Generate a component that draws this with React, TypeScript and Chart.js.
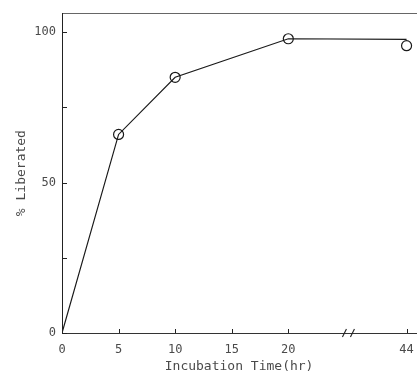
import React, { useEffect, useRef } from "react";
import { Chart, registerables } from "chart.js";

Chart.register(...registerables);

// Incubation time (hr) and % liberated
const hours = [0, 5, 10, 20, 44];
const lineValues = [0, 66, 85, 97.8, 97.6];
const markerHours = [5, 10, 20, 44];
const markerValues = [66, 85, 97.8, 95.5];
const xTickLabels = [0, 5, 10, 15, 20, 44];
const yTickValues = [0, 25, 50, 75, 100];
const yLabelled = [0, 50, 100];

// broken x axis: past 20 hr the scale is compressed
const BREAK_AT = 20;
const COMPRESS = 10.45 / 24;
const breakX = (h: number) => (h <= BREAK_AT ? h : BREAK_AT + (h - BREAK_AT) * COMPRESS);

const FONT = "'DejaVu Sans Mono', monospace";
const TEXT = "#4a4a4a";
const CANVAS_W = 424;

const framePlugin = {
  id: "frame",
  afterDraw(chart: any) {
    const { ctx, chartArea, scales } = chart;
    const xs = scales.x;
    const ys = scales.y;
    ctx.save();
    ctx.strokeStyle = "#222";
    ctx.lineWidth = 1;
    xs.ticks.forEach((t: any) => {
      const px = Math.round(xs.getPixelForValue(t.value)) + 0.5;
      ctx.beginPath();
      ctx.moveTo(px, chartArea.bottom);
      ctx.lineTo(px, chartArea.bottom - 4);
      ctx.stroke();
    });
    ys.ticks.forEach((t: any) => {
      const py = Math.round(ys.getPixelForValue(t.value)) + 0.5;
      ctx.beginPath();
      ctx.moveTo(chartArea.left, py);
      ctx.lineTo(chartArea.left + 5, py);
      ctx.stroke();
    });
    // axis break marks
    const bx = xs.getPixelForValue((breakX(20) + breakX(44)) / 2) + 1;
    const by = chartArea.bottom;
    ctx.lineWidth = 1.1;
    [-4, 4].forEach((dx) => {
      ctx.beginPath();
      ctx.moveTo(bx + dx - 2, by + 4);
      ctx.lineTo(bx + dx + 2, by - 4);
      ctx.stroke();
    });
    ctx.restore();
  },
};

export default function App() {
  const ref = useRef<HTMLCanvasElement>(null);
  useEffect(() => {
    if (!ref.current) return;
    const chart = new Chart(ref.current, {
      type: "line",
      data: {
        datasets: [
          {
            data: hours.map((h, i) => ({ x: breakX(h), y: lineValues[i] })),
            borderColor: "#1a1a1a",
            borderWidth: 1.2,
            pointRadius: 0,
            tension: 0,
          },
          {
            data: markerHours.map((h, i) => ({ x: breakX(h), y: markerValues[i] })),
            showLine: false,
            pointRadius: 5,
            pointBorderWidth: 1.2,
            pointBorderColor: "#1a1a1a",
            pointBackgroundColor: "#ffffff",
          },
        ],
      },
      options: {
        animation: false,
        responsive: false,
        maintainAspectRatio: false,
        layout: { padding: 0 },
        plugins: { legend: { display: false }, tooltip: { enabled: false } },
        scales: {
          x: {
            type: "linear",
            min: 0,
            max: 31.3,
            afterFit: (s: any) => {
              s.height = 41;
            },
            afterBuildTicks: (s: any) => {
              s.ticks = xTickLabels.map((v) => ({ value: breakX(v) }));
            },
            ticks: {
              autoSkip: false,
              maxRotation: 0,
              padding: 10,
              color: TEXT,
              font: { family: FONT, size: 12 },
              callback: (_v: any, i: number) => String(xTickLabels[i]),
            },
            grid: { display: true, drawOnChartArea: false, drawTicks: false },
            border: { display: true, color: "#333", width: 1 },
            title: {
              display: true,
              text: "Incubation Time(hr)",
              color: TEXT,
              font: { family: FONT, size: 13 },
              padding: { top: 0, bottom: 0 },
            },
          },
          x2: {
            type: "linear",
            position: "top",
            min: 0,
            max: 31.3,
            afterFit: (s: any) => {
              s.height = 12;
            },
            ticks: { display: false },
            grid: { display: false, drawTicks: false },
            border: { display: true, color: "#666", width: 1, dash: [6, 1] },
          },
          y: {
            type: "linear",
            min: 0,
            max: 106.3,
            afterFit: (s: any) => {
              s.width = 62;
            },
            afterBuildTicks: (s: any) => {
              s.ticks = yTickValues.map((v) => ({ value: v }));
            },
            ticks: {
              autoSkip: false,
              padding: 6,
              color: TEXT,
              font: { family: FONT, size: 12 },
              callback: (v: any) => (yLabelled.includes(Number(v)) ? String(v) : ""),
            },
            grid: { display: true, drawOnChartArea: false, drawTicks: false },
            border: { display: true, color: "#222", width: 1 },
            title: {
              display: true,
              text: "% Liberated",
              color: TEXT,
              font: { family: FONT, size: 13 },
              padding: { top: 14, bottom: 0 },
            },
          },
        },
      },
      plugins: [framePlugin],
    });
    return () => chart.destroy();
  }, []);
  return (
    <div style={{ position: "fixed", left: 0, top: 0, width: 417, height: 374, overflow: "hidden", background: "#fff" }}>
      <canvas ref={ref} width={CANVAS_W} height={374} style={{ width: CANVAS_W, height: 374 }} />
    </div>
  );
}
